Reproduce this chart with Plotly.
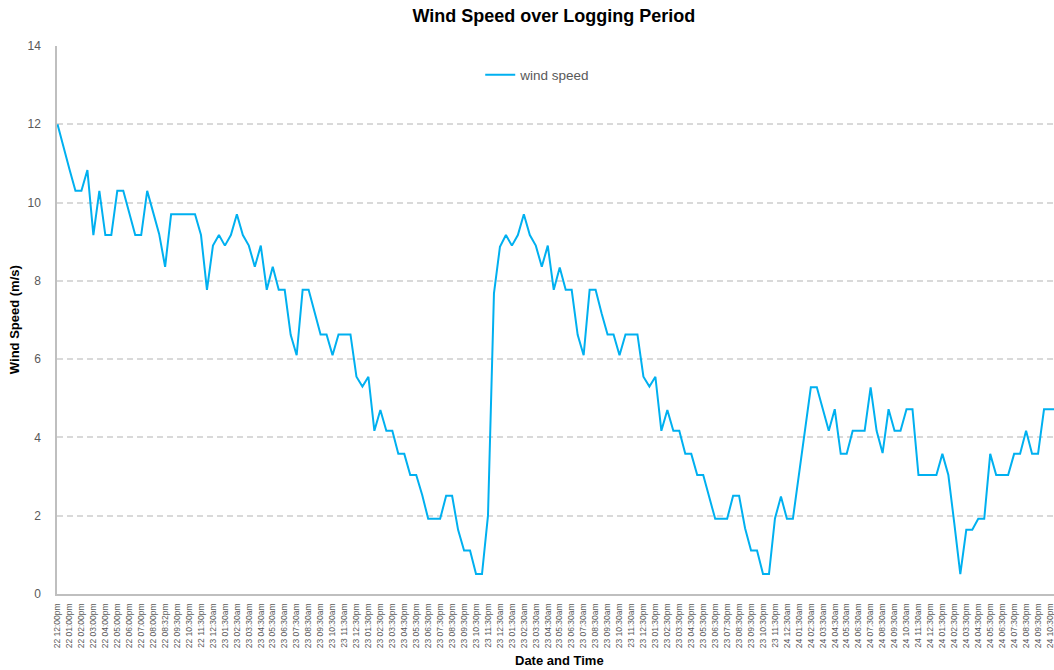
import plotly.graph_objs as go

# wind speed readings (m/s), one per logging interval
wind_speed = [
    12.0, 11.4, 10.85, 10.3, 10.3, 10.83, 9.17, 10.3, 9.17, 9.17,
    10.3, 10.3, 9.72, 9.17, 9.17, 10.3, 9.75, 9.2, 8.36, 9.7,
    9.7, 9.7, 9.7, 9.7, 9.17, 7.77, 8.9, 9.17, 8.9, 9.17,
    9.7, 9.17, 8.9, 8.36, 8.9, 7.77, 8.36, 7.77, 7.77, 6.62,
    6.1, 7.77, 7.77, 7.17, 6.63, 6.63, 6.1, 6.63, 6.63, 6.63,
    5.55, 5.3, 5.55, 4.17, 4.7, 4.17, 4.17, 3.58, 3.58, 3.04,
    3.04, 2.53, 1.92, 1.92, 1.92, 2.51, 2.51, 1.64, 1.11, 1.11,
    0.51, 0.51, 2.0, 7.68, 8.87, 9.17, 8.9, 9.17, 9.7, 9.17,
    8.9, 8.36, 8.9, 7.77, 8.34, 7.77, 7.77, 6.62, 6.1, 7.77,
    7.77, 7.17, 6.63, 6.63, 6.1, 6.63, 6.63, 6.63, 5.55, 5.3,
    5.55, 4.17, 4.7, 4.17, 4.17, 3.58, 3.58, 3.04, 3.04, 2.51,
    1.92, 1.92, 1.92, 2.51, 2.51, 1.68, 1.11, 1.11, 0.51, 0.51,
    1.93, 2.49, 1.92, 1.92, 3.05, 4.17, 5.28, 5.28, 4.72, 4.17,
    4.72, 3.58, 3.58, 4.17, 4.17, 4.17, 5.28, 4.17, 3.6, 4.72,
    4.17, 4.17, 4.72, 4.72, 3.04, 3.04, 3.04, 3.04, 3.58, 3.04,
    1.8, 0.51, 1.64, 1.64, 1.92, 1.92, 3.58, 3.04, 3.04, 3.04,
    3.58, 3.58, 4.17, 3.58, 3.58, 4.72, 4.72, 4.72,
]

# every second reading carries a date/time label
time_labels = [
    "22 12:00pm", "22 01:00pm", "22 02:00pm", "22 03:00pm", "22 04:00pm",
    "22 05:00pm", "22 06:00pm", "22 07:00pm", "22 08:00pm", "22 08:32pm",
    "22 09:30pm", "22 10:30pm", "22 11:30pm",
    "23 12:30am", "23 01:30am", "23 02:30am", "23 03:30am", "23 04:30am",
    "23 05:30am", "23 06:30am", "23 07:30am", "23 08:30am", "23 09:30am",
    "23 10:30am", "23 11:30am", "23 12:30pm", "23 01:30pm", "23 02:30pm",
    "23 03:30pm", "23 04:30pm", "23 05:30pm", "23 06:30pm", "23 07:30pm",
    "23 08:30pm", "23 09:30pm", "23 10:30pm", "23 11:30pm",
    "23 12:30am", "23 01:30am", "23 02:30am", "23 03:30am", "23 04:30am",
    "23 05:30am", "23 06:30am", "23 07:30am", "23 08:30am", "23 09:30am",
    "23 10:30am", "23 11:30am", "23 12:30pm", "23 01:30pm", "23 02:30pm",
    "23 03:30pm", "23 04:30pm", "23 05:30pm", "23 06:30pm", "23 07:30pm",
    "23 08:30pm", "23 09:30pm", "23 10:30pm", "23 11:30pm",
    "24 12:30am", "24 01:30am", "24 02:30am", "24 03:30am", "24 04:30am",
    "24 05:30am", "24 06:30am", "24 07:30am", "24 08:30am", "24 09:30am",
    "24 10:30am", "24 11:30am", "24 12:30pm", "24 01:30pm", "24 02:30pm",
    "24 03:30pm", "24 04:30pm", "24 05:30pm", "24 06:30pm", "24 07:30pm",
    "24 08:30pm", "24 09:30pm", "24 10:30pm",
]

FONT = "Liberation Sans, Arial, sans-serif"
GREY_TEXT = "#595959"
GRID = "#d9d9d9"
AXIS = "#bfbfbf"
LINE_BLUE = "#00b0f0"

x_idx = list(range(len(wind_speed)))
tick_idx = x_idx[::2][:len(time_labels)]


def GetLineTrace(x, y, name, color):
    return go.Scatter(x=x, y=y, mode='lines', name=name,
                      line=dict(color=color, width=2),
                      hoverinfo='skip')


fig = go.Figure()
fig.add_trace(GetLineTrace(x_idx, wind_speed, 'wind speed', LINE_BLUE))

fig.update_layout(
    width=1054, height=670,
    margin=dict(l=57, r=0, t=46, b=76),
    paper_bgcolor='white', plot_bgcolor='white',
    font=dict(family=FONT, color=GREY_TEXT),
    title=dict(text='<b>Wind Speed over Logging Period</b>',
               x=0.5255, xanchor='center', y=0.976, yanchor='middle',
               font=dict(family=FONT, size=18, color='black')),
    showlegend=True,
    legend=dict(x=0.4245, xanchor='left', y=0.947, yanchor='middle',
                bgcolor='rgba(0,0,0,0)', font=dict(size=13.5, color=GREY_TEXT)),
)

fig.update_xaxes(
    range=[-0.084, 166.67], automargin=False,
    tickmode='array', tickvals=tick_idx, ticktext=time_labels,
    tickangle=-90, tickfont=dict(size=8.5, color=GREY_TEXT),
    ticklabeloverflow='allow',
    showgrid=False, zeroline=False,
    showline=True, linecolor=AXIS, linewidth=2,
    ticks='', ticklabelstandoff=4,
)

fig.update_yaxes(
    range=[0, 14], dtick=2, tick0=0, automargin=False,
    tickfont=dict(size=12, color=GREY_TEXT),
    showgrid=True, gridcolor=GRID, gridwidth=1.5, griddash='6px,4px',
    zeroline=False,
    showline=True, linecolor=AXIS, linewidth=1.5,
    ticks='', ticklabelstandoff=12,
)

# axis titles placed as annotations to sit where the original has them
fig.add_annotation(text='<b>Wind Speed (m/s)</b>', textangle=-90,
                   xref='paper', yref='paper', x=-0.043, y=0.5,
                   xanchor='center', yanchor='middle', showarrow=False,
                   font=dict(family=FONT, size=13, color='black'))
fig.add_annotation(text='<b>Date and Time</b>',
                   xref='paper', yref='paper', x=0.5045, y=-0.122,
                   xanchor='center', yanchor='middle', showarrow=False,
                   font=dict(family=FONT, size=13, color='black'))

# page body has a default 8px margin; drop it so the figure fills the window
fig.write_html("out.html", config={'displayModeBar': False},
               post_script="document.body.style.margin='0';")
